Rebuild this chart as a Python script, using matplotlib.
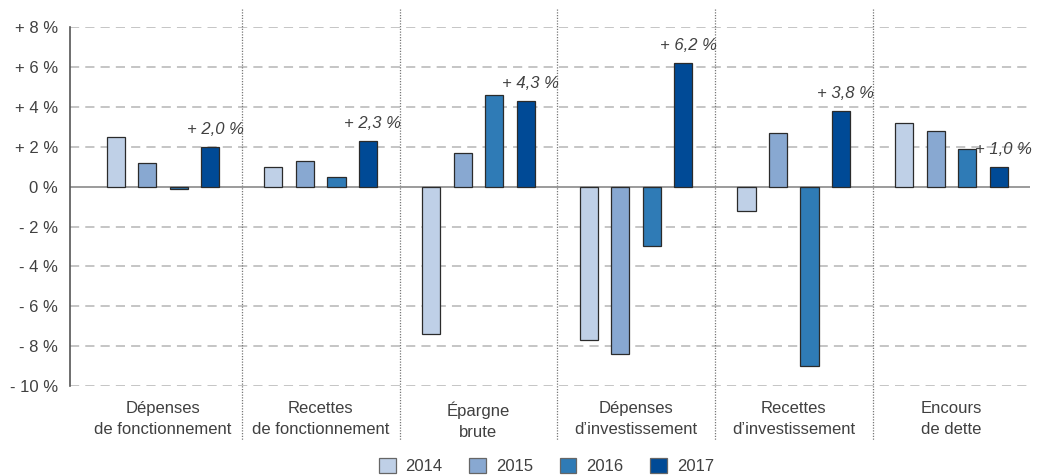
import numpy as np
import matplotlib
import matplotlib.pyplot as plt

matplotlib.use('Agg')

categories = ['Dépenses\nde fonctionnement', 'Recettes\nde fonctionnement', 'Épargne\nbrute',
              'Dépenses\nd\u2019investissement', 'Recettes\nd\u2019investissement', 'Encours\nde dette']
years = ['2014', '2015', '2016', '2017']
v2014 = [2.5, 1.0, -7.4, -7.7, -1.2, 3.2]
v2015 = [1.2, 1.3, 1.7, -8.4, 2.7, 2.8]
v2016 = [-0.1, 0.5, 4.6, -3.0, -9.0, 1.9]
v2017 = [2.0, 2.3, 4.3, 6.2, 3.8, 1.0]
labels_2017 = ['+ 2,0 %', '+ 2,3 %', '+ 4,3 %', '+ 6,2 %', '+ 3,8 %', '+ 1,0 %']
colors = ['#bfd0e7', '#88a8d1', '#2f7bb6', '#004a96']

plt.rcParams['font.family'] = ['Liberation Sans', 'DejaVu Sans']
text_color = '#404040'
fs = 12

fig = plt.figure(figsize=(10.37, 4.76), dpi=100)
ax = fig.add_axes([0.0675, 0.189, 0.926, 0.754])

x = np.arange(len(categories))
width = 0.115
step = 0.2
series = [v2014, v2015, v2016, v2017]
for i, vals in enumerate(series):
    ax.bar(x + (i - 1.5) * step, vals, width=width, color=colors[i],
           edgecolor='#2b2b2b', linewidth=0.9, label=years[i], zorder=3)

for xi, v, lab in zip(x, v2017, labels_2017):
    ax.text(xi + 1.5 * step + 0.03, v + 0.5, lab, ha='center', va='bottom',
            fontsize=fs, style='italic', color=text_color, zorder=4)

ax.set_ylim(-10, 8)
ax.set_xlim(-0.59, 5.5)
yt = np.arange(-10, 9, 2)
ax.set_yticks(yt)
ax.set_yticklabels([('+ %d %%' % t) if t > 0 else ('0 %' if t == 0 else '- %d %%' % -t) for t in yt])
ax.set_xticks(x)
ax.set_xticklabels(categories, linespacing=1.5)
ax.tick_params(axis='both', length=0, labelsize=fs, colors=text_color)
ax.tick_params(axis='y', pad=8.5)
ax.tick_params(axis='x', pad=11)

for t in yt:
    if t == 0:
        ax.axhline(0, color='#8a8a8a', linewidth=1.2, zorder=2)
    else:
        ax.axhline(t, color='#b5b5b5', linewidth=1.1, linestyle=(0, (6, 4)), zorder=1)

for b in x[:-1] + 0.5:
    ax.plot([b, b], [1.05, -0.15], transform=ax.get_xaxis_transform(), color='#777777',
            linewidth=0.9, linestyle=(0, (1, 1.2)), clip_on=False, zorder=1)

for s in ['top', 'right', 'bottom']:
    ax.spines[s].set_visible(False)
ax.spines['left'].set_color('#555555')
ax.spines['left'].set_linewidth(1.2)

leg = fig.legend(loc='lower center', ncol=4, frameon=False, bbox_to_anchor=(0.527, -0.028),
                 fontsize=fs, handlelength=1.0, handleheight=1.0, columnspacing=1.6,
                 handletextpad=0.6)
for txt in leg.get_texts():
    txt.set_color(text_color)
for h in leg.legend_handles:
    h.set_edgecolor('#666666')

fig.savefig('out.png', dpi=100)
